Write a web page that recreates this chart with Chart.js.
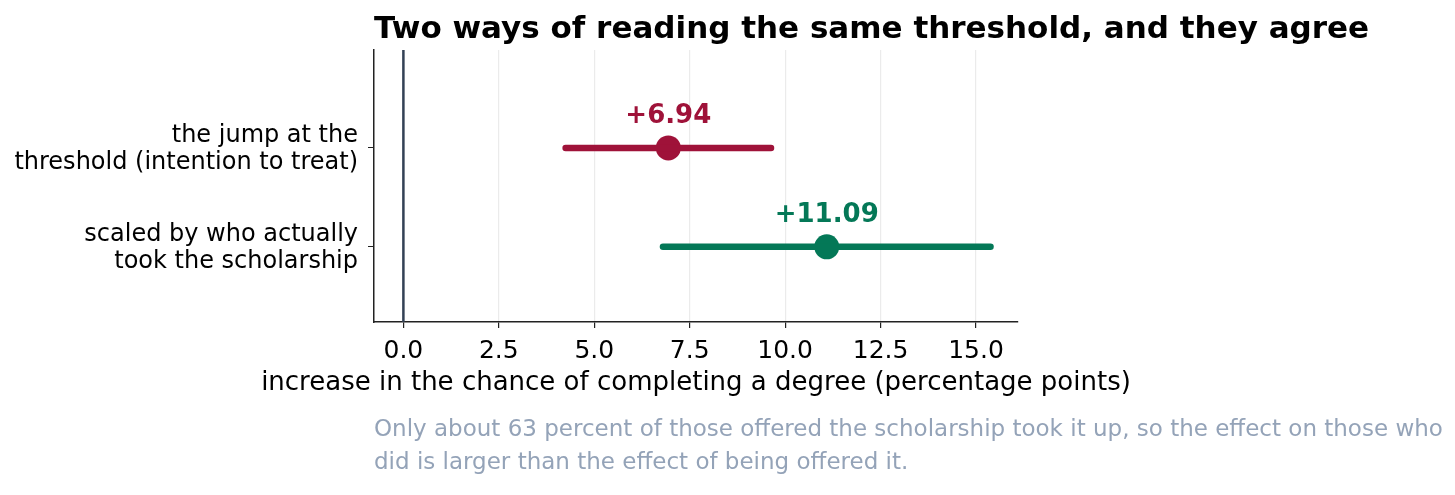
<!DOCTYPE html>
<html>
<head>
<meta charset="utf-8">
<script src="https://cdn.jsdelivr.net/npm/chart.js@4.4.1/dist/chart.umd.min.js"></script>
<style>
  body { margin: 0; background: #fff; }
  #wrap { position: relative; width: 1455px; height: 495px; }
  #title { position: absolute; left: 374px; top: 9px; font: bold 31px "DejaVu Sans"; color: #000; white-space: nowrap; }
  #xtitle { position: absolute; left: 196px; width: 1000px; top: 366px; text-align: center; font: 26px "DejaVu Sans"; line-height: 30px; color: #000; white-space: nowrap; }
  #note { position: absolute; left: 374px; top: 412px; font: 23px "DejaVu Sans"; color: #94a3b8; line-height: 33px; white-space: nowrap; }
</style>
</head>
<body>
<div id="wrap">
  <canvas id="chart" width="1455" height="495"></canvas>
  <div id="title">Two ways of reading the same threshold, and they agree</div>
  <div id="xtitle">increase in the chance of completing a degree (percentage points)</div>
  <div id="note">Only about 63 percent of those offered the scholarship took it up, so the effect on those who<br>did is larger than the effect of being offered it.</div>
</div>
<script>
const rowLabels = [
    ['the jump at the', 'threshold (intention to treat)'],
    ['scaled by who actually', 'took the scholarship'],
];
const estimates = [6.94, 11.09];
const lower = [4.25, 6.80];
const upper = [9.63, 15.38];
const estimateText = ['+6.94', '+11.09'];
const rowColors = ['#9f1239', '#047857'];
const xTicks = [0, 2.5, 5, 7.5, 10, 12.5, 15];

const font = 'DejaVu Sans';

// interval lines, one dataset per row
const datasets = rowLabels.map((_, i) => ({
    data: [{x: lower[i], y: i}, {x: upper[i], y: i}],
    showLine: true,
    borderColor: rowColors[i],
    borderWidth: 6.5,
    borderCapStyle: 'round',
    pointRadius: 0,
}));
datasets.push({
    data: estimates.map((v, i) => ({x: v, y: i})),
    pointRadius: 12.5,
    pointHoverRadius: 12.5,
    backgroundColor: rowColors,
    borderWidth: 0,
});

const extras = {
    id: 'extras',
    beforeDatasetsDraw(chart) {
        const {ctx, chartArea, scales} = chart;
        const x0 = scales.x.getPixelForValue(0);
        ctx.save();
        ctx.strokeStyle = '#334155';
        ctx.lineWidth = 2.5;
        ctx.beginPath();
        ctx.moveTo(x0, chartArea.top);
        ctx.lineTo(x0, chartArea.bottom);
        ctx.stroke();
        ctx.restore();
    },
    afterDatasetsDraw(chart) {
        const {ctx, scales, chartArea} = chart;
        ctx.save();
        ctx.font = `bold 26px "${font}"`;
        ctx.textAlign = 'center';
        ctx.textBaseline = 'middle';
        estimates.forEach((v, i) => {
            ctx.fillStyle = rowColors[i];
            ctx.fillText(estimateText[i], scales.x.getPixelForValue(v), scales.y.getPixelForValue(i) - 32);
        });
        // row labels (drawn here so the two lines sit centred on the tick)
        ctx.font = `24px "${font}"`;
        ctx.textAlign = 'right';
        ctx.fillStyle = '#000';
        rowLabels.forEach((lines, i) => {
            const py = scales.y.getPixelForValue(i);
            lines.forEach((t, j) => {
                ctx.fillText(t, chartArea.left - 16, py + (j - (lines.length - 1) / 2) * 27 + 1.5);
            });
        });
        ctx.restore();
    }
};

new Chart(document.getElementById('chart'), {
    type: 'scatter',
    data: {datasets: datasets},
    options: {
        responsive: false,
        animation: false,
        layout: {padding: {top: 50, right: 437, bottom: 102, left: 0}},
        scales: {
            x: {
                type: 'linear',
                min: -0.77,
                max: 16.1,
                afterBuildTicks: (s) => { s.ticks = xTicks.map(v => ({value: v})); },
                afterFit: (s) => { s.height = 71; },
                ticks: {
                    callback: (v) => v.toFixed(1),
                    color: '#000',
                    font: {family: font, size: 25},
                    padding: 8,
                    maxRotation: 0,
                },
                grid: {color: '#ebebeb', lineWidth: 1.2, tickColor: '#222', tickLength: 6},
                border: {color: '#222', width: 1.5},
            },
            y: {
                type: 'linear',
                reverse: true,
                min: -0.99,
                max: 1.76,
                afterBuildTicks: (s) => { s.ticks = rowLabels.map((_, i) => ({value: i})); },
                afterFit: (s) => { s.width = 374; },
                ticks: {display: false},
                grid: {drawOnChartArea: false, tickColor: '#222', tickLength: 6},
                border: {color: '#222', width: 1.5},
            },
        },
        plugins: {
            legend: {display: false},
            tooltip: {enabled: false},
        },
    },
    plugins: [extras],
});
</script>
</body>
</html>
